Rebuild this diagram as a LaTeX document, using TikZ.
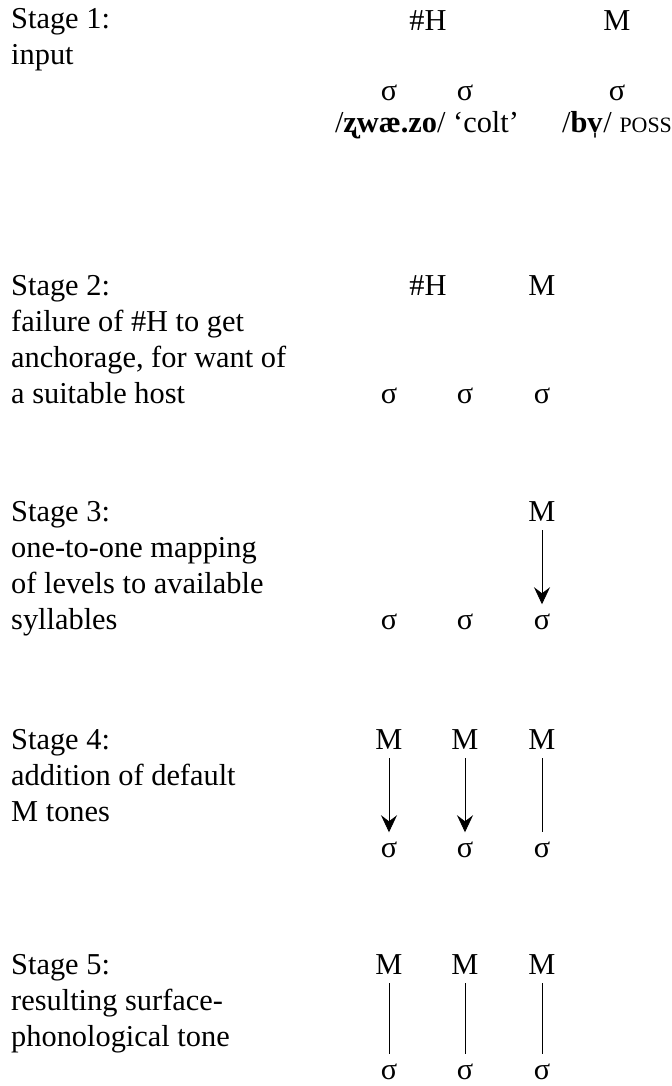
\documentclass[tikz,border=0pt]{standalone}
\usepackage{fontspec}
\setmainfont{Liberation Serif}
\usetikzlibrary{arrows.meta}

\begin{document}
\begin{tikzpicture}[x=1bp, y=-1bp,
  every node/.style={font=\fontsize{30.5}{36}\selectfont},
  lbl/.style={anchor=base west, inner sep=0pt},
  tier/.style={anchor=base, inner sep=9bp},
  assoc/.style={line width=0.8bp},
  link/.style={assoc, -{Stealth[length=17bp, width=16bp, inset=6bp]}}]

\useasboundingbox (0,0) rectangle (672,1086);

% Stage 1: input
\node[lbl] (L1a) at (11,28) {Stage 1:};
\node[lbl] (L1b) at (11,64) {input};
\node[tier] (T1a) at (428,30) {\#H};
\node[tier] (T1b) at (617,30) {M};
\foreach \n/\x in {a/389, b/465, c/617}
  \node[tier] (S1\n) at (\x,100) {σ};
\node[anchor=base, inner sep=0pt] (W1a) at (427,132) {/\textbf{ʐwæ.zo}/ ‘colt’};
\node[anchor=base, inner sep=0pt] (W1b) at (617,132) {/\textbf{bv̩}/ {\fontsize{22}{24}\selectfont POSS}};

% Stage 2: no host for #H
\node[lbl] (L2a) at (11,295) {Stage 2:};
\node[lbl] (L2b) at (11,331) {failure of \#H to get};
\node[lbl] (L2c) at (11,367) {anchorage, for want of};
\node[lbl] (L2d) at (11,403) {a suitable host};
\node[tier] (T2a) at (428,295) {\#H};
\node[tier] (T2b) at (542,295) {M};
\foreach \n/\x in {a/389, b/465, c/542}
  \node[tier] (S2\n) at (\x,403) {σ};

% Stage 3: one-to-one mapping
\node[lbl] (L3a) at (11,521) {Stage 3:};
\node[lbl] (L3b) at (11,557) {one-to-one mapping};
\node[lbl] (L3c) at (11,593) {of levels to available};
\node[lbl] (L3d) at (11,629) {syllables};
\node[tier] (T3c) at (542,521) {M};
\foreach \n/\x in {a/389, b/465, c/542}
  \node[tier] (S3\n) at (\x,629) {σ};
\draw[link] (T3c) -- (S3c);

% Stage 4: default M tones
\node[lbl] (L4a) at (11,749) {Stage 4:};
\node[lbl] (L4b) at (11,785) {addition of default};
\node[lbl] (L4c) at (11,821) {M tones};
\foreach \n/\x in {a/389, b/465, c/542}{
  \node[tier] (T4\n) at (\x,749) {M};
  \node[tier] (S4\n) at (\x,857) {σ};
}
\draw[link] (T4a) -- (S4a);
\draw[link] (T4b) -- (S4b);
\draw[assoc] (T4c) -- (S4c);

% Stage 5: surface tone
\node[lbl] (L5a) at (11,974) {Stage 5:};
\node[lbl] (L5b) at (11,1010) {resulting surface-};
\node[lbl] (L5c) at (11,1046) {phonological tone};
\foreach \n/\x in {a/389, b/465, c/542}{
  \node[tier] (T5\n) at (\x,974) {M};
  \node[tier] (S5\n) at (\x,1079) {σ};
  \draw[assoc] (T5\n) -- (S5\n);
}

\end{tikzpicture}
\end{document}
